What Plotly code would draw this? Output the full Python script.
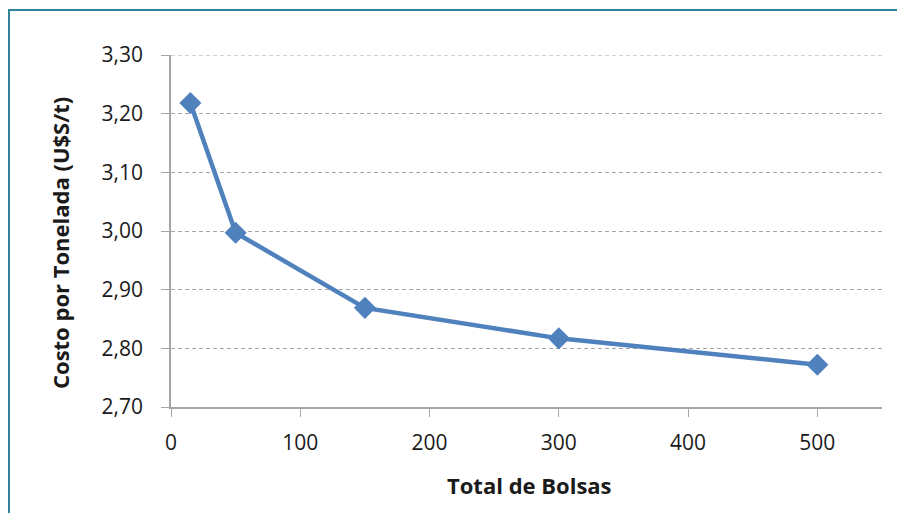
import plotly.graph_objects as go

bolsas = [15, 50, 150, 300, 500]
costo = [3.218, 2.997, 2.869, 2.817, 2.772]
x_ticks = [0, 100, 200, 300, 400, 500]
y_ticks = [2.7, 2.8, 2.9, 3.0, 3.1, 3.2, 3.3]
x_title = "Total de Bolsas"
y_title = "Costo por Tonelada (U$S/t)"

# page offset from default body margin
OFF = 8
W, H = 905 - OFF, 513 - OFF
# plot area in page pixels
PX0, PX1, PY0, PY1 = 171, 882, 55, 407
L, T = PX0 - OFF, PY0 - OFF
R, B = 905 - PX1, 513 - PY1
pw, ph = PX1 - PX0, PY1 - PY0


def px(x):
    return (x - PX0) / pw


def py(y):
    return (PY1 - y) / ph


font = "Open Sans, Noto Sans, sans-serif"
grid = "#A6A6A6"

fig = go.Figure()
fig.add_trace(go.Scatter(
    x=bolsas, y=costo, mode="lines+markers",
    line=dict(color="#4F81BD", width=4.5),
    marker=dict(symbol="diamond", size=17, color="#4F81BD"),
    showlegend=False,
))

fig.update_layout(
    width=W, height=H,
    margin=dict(l=L, r=R, t=T, b=B),
    paper_bgcolor="white", plot_bgcolor="white",
    separators=", ",
    font=dict(family=font, size=21, color="#1a1a1a"),
    xaxis=dict(
        range=[0, 550], tickvals=x_ticks,
        showgrid=False, zeroline=False,
        showline=True, linecolor=grid, linewidth=1.5,
        ticks="outside", ticklen=8, tickcolor=grid,
        tickfont=dict(size=21), ticklabelstandoff=8,
    ),
    yaxis=dict(
        range=[2.70, 3.30], tickvals=y_ticks,
        tickformat=".2f",
        showgrid=True, gridcolor=grid, griddash="4px,3px", gridwidth=1,
        zeroline=False,
        showline=True, linecolor=grid, linewidth=1.5,
        ticks="outside", ticklen=8, tickcolor=grid,
        tickfont=dict(size=21), ticklabelstandoff=14,
    ),
    annotations=[
        dict(text="<b>" + x_title + "</b>", xref="paper", yref="paper",
             x=px(529), y=py(485), xanchor="center", yanchor="middle",
             showarrow=False, font=dict(size=22)),
        dict(text="<b>" + y_title + "</b>", xref="paper", yref="paper",
             x=px(60), y=py(243), xanchor="center", yanchor="middle",
             textangle=-90, showarrow=False, font=dict(size=22)),
    ],
    shapes=[
        dict(type="rect", xref="paper", yref="paper",
             x0=px(9), x1=px(930), y0=py(540), y1=py(10),
             line=dict(color="#31849B", width=2), fillcolor="rgba(0,0,0,0)",
             layer="below"),
        dict(type="line", xref="paper", yref="y", x0=0, x1=1,
             y0=y_ticks[-1], y1=y_ticks[-1],
             line=dict(color=grid, width=1, dash="4px,3px"), layer="below"),
    ],
)

fig.write_html("out.html")
